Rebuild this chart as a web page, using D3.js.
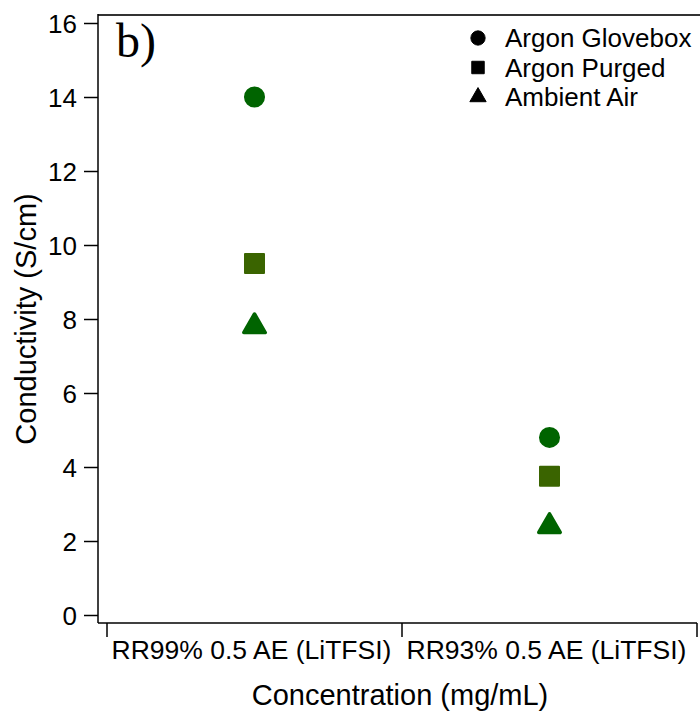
<!DOCTYPE html>
<html>
<head>
    <meta charset="utf-8">
    <title>Conductivity</title>
    <style>
        * { margin: 0; padding: 0; }
        body { background: #fff; }
        svg text { font-family: "Liberation Sans", Arial, sans-serif; fill: #000; }
    </style>
    <script src="https://cdn.jsdelivr.net/npm/d3@7/dist/d3.min.js"></script>
</head>
<body>
<div id="root"></div>
<script>
    // data
    var categories = ["RR99% 0.5 AE (LiTFSI)", "RR93% 0.5 AE (LiTFSI)"];
    var seriesNames = ["Argon Glovebox", "Argon Purged", "Ambient Air"];
    var glovebox = [14.0, 4.8];
    var purged = [9.5, 3.75];
    var ambient = [7.8, 2.4];
    var yTicks = [0, 2, 4, 6, 8, 10, 12, 14, 16];

    var width = 700, height = 711;
    var plotLeft = 98, plotTop = 15, plotBottom = 623;

    var svg = d3.select("#root").append("svg").attr("width", width).attr("height", height);

    var y = d3.scaleLinear().domain([0, 16]).range([615, 23]);
    var x = d3.scaleBand().domain(categories).range([107, 697]).padding(0);

    // top frame
    svg.append("line").attr("x1", plotLeft).attr("x2", 700).attr("y1", plotTop).attr("y2", plotTop)
        .attr("stroke", "#333").attr("stroke-width", 2);

    // y axis
    var yAxis = d3.axisLeft(y).tickValues(yTicks).tickSize(14).tickPadding(7).tickSizeOuter(0);
    var gy = svg.append("g").attr("transform", "translate(" + plotLeft + ",0)").call(yAxis);
    gy.select(".domain").remove();
    gy.selectAll(".tick line").attr("stroke", "#000").attr("stroke-width", 1.5);
    gy.selectAll(".tick text").style("font-size", "26px").attr("dy", "0.35em")
        .style("font-family", "Liberation Sans, Arial, sans-serif");
    svg.append("line").attr("x1", plotLeft).attr("x2", plotLeft).attr("y1", plotTop - 1).attr("y2", plotBottom)
        .attr("stroke", "#000").attr("stroke-width", 1.5);

    // x axis
    svg.append("line").attr("x1", plotLeft).attr("x2", 697).attr("y1", plotBottom).attr("y2", plotBottom)
        .attr("stroke", "#000").attr("stroke-width", 1.5);
    var bounds = categories.map(function (c) { return x(c); });
    bounds.push(x(categories[categories.length - 1]) + x.bandwidth());
    svg.append("g").selectAll("line").data(bounds).enter().append("line")
        .attr("x1", function (d) { return d; }).attr("x2", function (d) { return d; })
        .attr("y1", plotBottom).attr("y2", plotBottom + 14)
        .attr("stroke", "#000").attr("stroke-width", 1.5);
    svg.append("g").selectAll("text").data(categories).enter().append("text")
        .attr("x", function (d) { return x(d) + x.bandwidth() / 2 - 3; })
        .attr("y", 659)
        .attr("text-anchor", "middle")
        .style("font-size", "26.5px")
        .text(function (d) { return d; });

    // axis titles
    svg.append("text").attr("x", 400).attr("y", 705).attr("text-anchor", "middle")
        .style("font-size", "29px").text("Concentration (mg/mL)");
    svg.append("text").attr("transform", "translate(36," + ((plotTop + plotBottom) / 2) + ") rotate(-90)")
        .attr("text-anchor", "middle").style("font-size", "29px").text("Conductivity (S/cm)");

    // panel label
    svg.append("text").attr("x", 116).attr("y", 57)
        .style("font-family", "Liberation Serif, Times New Roman, serif").style("font-size", "48px")
        .text("b)");

    // markers
    var series = [
        { name: seriesNames[0], values: glovebox, shape: d3.symbolCircle, size: 285, sw: 2, color: "#006400" },
        { name: seriesNames[1], values: purged, shape: d3.symbolSquare, size: 361, sw: 2, color: "#3a6400" },
        { name: seriesNames[2], values: ambient, shape: d3.symbolTriangle, size: 200, sw: 3.5, color: "#006400" }
    ];

    series.forEach(function (s) {
        svg.append("g").selectAll("path").data(s.values).enter().append("path")
            .attr("d", d3.symbol().type(s.shape).size(s.size))
            .attr("transform", function (d, i) {
                return "translate(" + (x(categories[i]) + x.bandwidth() / 2) + "," + y(d) + ")";
            })
            .attr("fill", s.color)
            .attr("stroke", s.color)
            .attr("stroke-width", s.sw)
            .attr("stroke-linejoin", "round");
    });

    // legend
    var legend = svg.append("g").attr("transform", "translate(478,38)");
    var lsize = [160, 155, 115];
    series.forEach(function (s, i) {
        var g = legend.append("g").attr("transform", "translate(0," + i * 29.5 + ")");
        g.append("path").attr("d", d3.symbol().type(s.shape).size(lsize[i]))
            .attr("fill", "#000").attr("stroke", "#000").attr("stroke-width", 1)
            .attr("stroke-linejoin", "round");
        g.append("text").attr("x", 27).attr("y", 9).style("font-size", "26px").text(s.name);
    });
</script>
</body>
</html>
